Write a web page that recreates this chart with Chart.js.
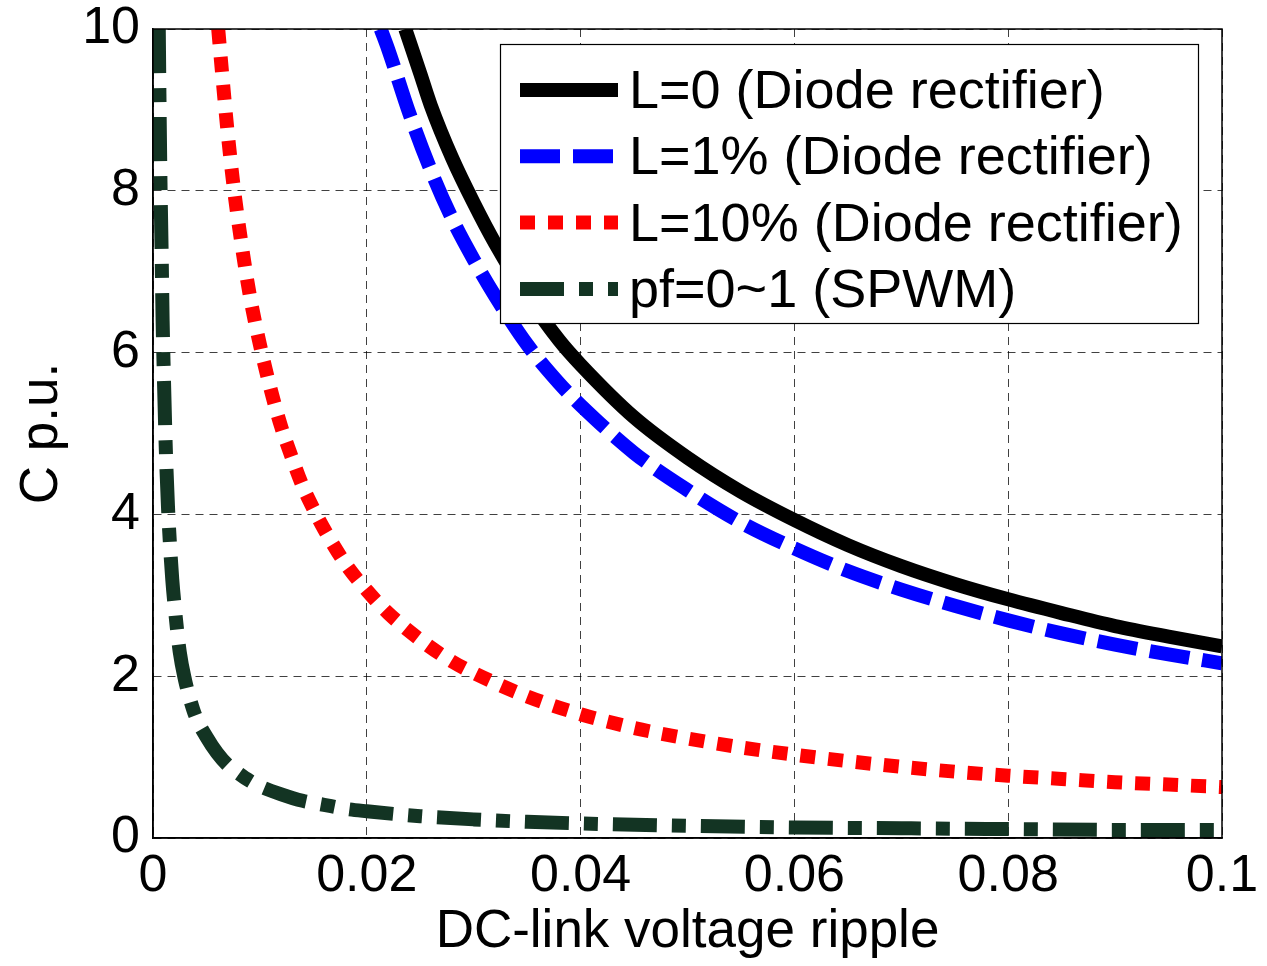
<!DOCTYPE html>
<html><head><meta charset="utf-8">
<script src="https://cdn.jsdelivr.net/npm/chart.js@4"></script>
<style>html,body{margin:0;padding:0;background:#fff}#wrap{width:1267px;height:966px;position:relative}</style>
</head><body><div id="wrap"><canvas id="c"></canvas></div>
<script>
// ---- data ----
const seriesLabels = ['L=0 (Diode rectifier)', 'L=1% (Diode rectifier)', 'L=10% (Diode rectifier)', 'pf=0~1 (SPWM)'];

const xL0 = [0.0236,0.025,0.026,0.028,0.030,0.032,0.035,0.038,0.040,0.045,0.050,0.055,0.060,0.065,0.070,0.075,0.080,0.085,0.090,0.095,0.100];
const cL0 = [10,9.45,9.05,8.4,7.85,7.35,6.7,6.15,5.85,5.2,4.7,4.28,3.93,3.62,3.36,3.14,2.95,2.78,2.62,2.49,2.37];

const xL1 = [0.0213,0.022,0.024,0.026,0.028,0.030,0.032,0.035,0.038,0.040,0.045,0.050,0.055,0.060,0.065,0.070,0.075,0.080,0.085,0.090,0.095,0.100];
const cL1 = [10,9.75,8.95,8.25,7.65,7.15,6.7,6.1,5.62,5.35,4.76,4.3,3.9,3.58,3.3,3.07,2.87,2.69,2.53,2.39,2.27,2.16];

const xL10 = [0.0061,0.0065,0.007,0.0075,0.008,0.009,0.010,0.011,0.012,0.013,0.014,0.015,0.016,0.018,0.020,0.022,0.025,0.028,0.030,0.035,0.040,0.045,0.050,0.055,0.060,0.065,0.070,0.075,0.080,0.085,0.090,0.095,0.100];
const cL10 = [10,9.4,8.7,8.1,7.6,6.75,6.1,5.55,5.08,4.7,4.35,4.07,3.82,3.39,3.06,2.78,2.45,2.18,2.04,1.75,1.53,1.36,1.23,1.12,1.03,0.95,0.88,0.82,0.77,0.73,0.69,0.66,0.63];

const xPF = [0.00054,0.0006,0.0007,0.0008,0.0009,0.001,0.0012,0.0014,0.0016,0.0018,0.002,0.0025,0.003,0.0035,0.004,0.005,0.006,0.007,0.008,0.009,0.010,0.012,0.014,0.016,0.018,0.020,0.025,0.030,0.035,0.040,0.050,0.060,0.070,0.080,0.090,0.100];
const cPF = [10,9.2,8.1,7.3,6.4,5.8,4.8,4.1,3.6,3.2,2.9,2.3,1.95,1.7,1.5,1.25,1.05,0.9,0.8,0.71,0.64,0.54,0.46,0.41,0.36,0.33,0.27,0.23,0.2,0.18,0.15,0.13,0.12,0.11,0.1,0.1];

const xTickLabels = ['0','0.02','0.04','0.06','0.08','0.1'];
const yTickLabels = ['0','2','4','6','8','10'];
const xTitle = 'DC-link voltage ripple';
const yTitle = 'C p.u.';

// ---- chart ----
const FONT = "'Liberation Sans', Arial, Helvetica, sans-serif";
function pts(xs, ys){ return xs.map((x,i)=>({x:x, y:ys[i]})); }

const styles = [
  {color:'#000000', dash:[]},
  {color:'#0000ff', dash:[40,13]},
  {color:'#ff0000', dash:[15,13]},
  {color:'#133423', dash:[44,15,14,15]}
];
const allX = [xL0,xL1,xL10,xPF], allY=[cL0,cL1,cL10,cPF];

const datasets = seriesLabels.map((lab,i)=>({
  label: lab,
  data: pts(allX[i], allY[i]),
  borderColor: styles[i].color,
  backgroundColor: styles[i].color,
  borderDash: styles[i].dash,
  borderWidth: 14,
  borderCapStyle: 'butt',
  borderJoinStyle: 'round',
  pointRadius: 0,
  pointHoverRadius: 0,
  cubicInterpolationMode: 'monotone',
  fill: false,
  clip: 0,
  order: 4 - i
}));

const framePlugin = {
  id:'frame',
  afterDatasetsDraw(chart){
    const {ctx, chartArea:a} = chart;
    ctx.save();
    ctx.strokeStyle='#000'; ctx.lineWidth=1.5;
    ctx.strokeRect(a.left, a.top, a.right-a.left, a.bottom-a.top);
    ctx.restore();
  }
};

const legendPlugin = {
  id:'boxLegend',
  afterDraw(chart){
    const {ctx, chartArea:a} = chart;
    const bx = a.left + 347, by = a.top + 15, bw = 698, bh = 279;
    ctx.save();
    ctx.fillStyle='#fff';
    ctx.fillRect(bx, by, bw, bh);
    ctx.strokeStyle='#000'; ctx.lineWidth=1.2;
    ctx.strokeRect(bx+0.5, by+0.5, bw, bh);
    chart.data.datasets.forEach((ds,i)=>{
      const yc = by + 46 + i*66.3;
      ctx.beginPath();
      ctx.setLineDash(ds.borderDash);
      ctx.lineDashOffset = 0;
      ctx.lineCap='butt';
      ctx.strokeStyle = ds.borderColor;
      ctx.lineWidth = 14;
      ctx.moveTo(bx+20, yc); ctx.lineTo(bx+118, yc);
      ctx.stroke();
      ctx.setLineDash([]);
      ctx.fillStyle='#000';
      ctx.font = '54px ' + FONT;
      ctx.textAlign='left'; ctx.textBaseline='alphabetic';
      ctx.fillText(ds.label, bx+129, yc+18);
    });
    ctx.restore();
  }
};

function noPad(s){ s.paddingTop = 0; s.paddingBottom = 0; s.paddingLeft = 0; s.paddingRight = 0; }

const pad = {top:29, right:45, left:0, bottom:0};
const chart = new Chart(document.getElementById('c'), {
  type:'line',
  data:{datasets},
  options:{
    responsive:true, maintainAspectRatio:false, animation:false,
    layout:{padding:pad},
    plugins:{legend:{display:false}, tooltip:{enabled:false}},
    scales:{
      x:{
        type:'linear', min:0, max:0.1,
        afterFit(s){ s.height = 128; noPad(s); },
        ticks:{stepSize:0.02, color:'#000', font:{size:52, family:FONT, lineHeight:1}, padding:13, maxRotation:0,
          callback:(v,i)=>xTickLabels[i]},
        grid:{color:'rgba(0,0,0,0.75)', lineWidth:1, drawTicks:false},
        border:{display:true, color:'#000', width:1.5, dash:[8,6]},
        title:{display:true, text:xTitle, color:'#000', font:{size:53, family:FONT, lineHeight:1}, padding:{top:0,bottom:7}}
      },
      y:{
        type:'linear', min:0, max:10,
        afterFit(s){ s.width = 153; noPad(s); },
        ticks:{stepSize:2, color:'#000', font:{size:52, family:FONT, lineHeight:1}, padding:13,
          callback:(v,i)=>yTickLabels[i]},
        grid:{color:'rgba(0,0,0,0.75)', lineWidth:1, drawTicks:false},
        border:{display:true, color:'#000', width:1.5, dash:[8,6]},
        title:{display:true, text:yTitle, color:'#000', font:{size:53, family:FONT, lineHeight:1}, padding:{top:16,bottom:0}}
      }
    }
  },
  plugins:[framePlugin, legendPlugin]
});

// nudge layout padding so the plot area sits where the reference's does
const target = {top:29, right:1222};
for (let k=0;k<3;k++){
  const a = chart.chartArea;
  const dt = target.top - a.top, dr = a.right - target.right;
  if (Math.abs(dt) < 0.5 && Math.abs(dr) < 0.5) break;
  pad.top = Math.max(0, pad.top + dt);
  pad.right = Math.max(0, pad.right + dr);
  chart.options.layout.padding = Object.assign({}, pad);
  chart.update();
}
</script></body></html>
